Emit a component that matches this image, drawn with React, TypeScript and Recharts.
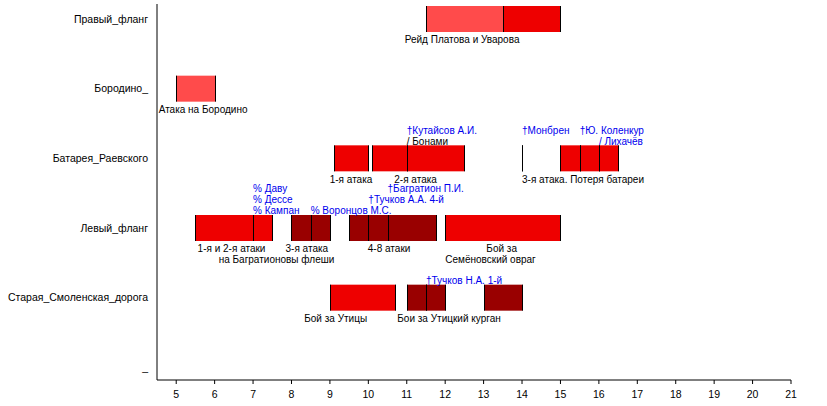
import React from 'react'
import { BarChart, Bar, XAxis, YAxis, ReferenceDot } from 'recharts'

// rows of the timeline, top to bottom
const rowNames = ['Правый_фланг', 'Бородино_', 'Батарея_Раевского', 'Левый_фланг', 'Старая_Смоленская_дорога', '_']

// segments per row: [from hour, till hour, colour key]
const rightFlank = [[11.5, 13.5, 'light'], [13.5, 15, 'red']]
const borodino = [[5, 6, 'light']]
const raevsky = [
  [9.1, 10, 'red'], [10.1, 11, 'red'], [11, 12.5, 'red'], [14, 14.01, 'red'],
  [15, 15.5, 'red'], [15.5, 16, 'red'], [16, 16.5, 'red'],
]
const leftFlank = [
  [5.5, 7, 'red'], [7, 7.5, 'red'], [8, 8.5, 'dark'], [8.5, 9, 'dark'],
  [9.5, 10, 'dark'], [10, 10.5, 'dark'], [10.5, 11.75, 'dark'], [12, 15, 'red'],
]
const smolensk = [[9, 10.7, 'red'], [11, 11.5, 'dark'], [11.5, 12, 'dark'], [13, 14, 'dark']]
const segments = [rightFlank, borodino, raevsky, leftFlank, smolensk, []]

const hourTicks = [5, 6, 7, 8, 9, 10, 11, 12, 13, 14, 15, 16, 17, 18, 19, 20, 21]

// captions: [row, hour, line (+ below bar, - above), anchor, kind, text]
const captions = [
  [0, 12.44, 1, 'middle', 'text', 'Рейд Платова и Уварова'],
  [1, 5.7, 1, 'middle', 'text', 'Атака на Бородино'],
  [2, 11, -2, 'start', 'death', '†Кутайсов А.И.'],
  [2, 11, -1, 'start', 'text', '/ Бонами'],
  [2, 14, -2, 'start', 'death', '†Монбрен'],
  [2, 15.5, -2, 'start', 'death', '†Ю. Коленкур'],
  [2, 16, -1, 'start', 'death', '/ Лихачёв'],
  [2, 9.55, 1, 'middle', 'text', '1-я атака'],
  [2, 11.23, 1, 'middle', 'text', '2-я атака'],
  [2, 14, 1, 'start', 'text', '3-я атака. Потеря батареи'],
  [3, 7, -3, 'start', 'death', '% Даву'],
  [3, 7, -2, 'start', 'death', '% Дессе'],
  [3, 7, -1, 'start', 'death', '% Кампан'],
  [3, 8.5, -1, 'start', 'death', '% Воронцов М.С.'],
  [3, 10, -2, 'start', 'death', '†Тучков А.А. 4-й'],
  [3, 10.5, -3, 'start', 'death', '†Багратион П.И.'],
  [3, 6.44, 1, 'middle', 'text', '1-я и 2-я атаки'],
  [3, 7.61, 2, 'middle', 'text', 'на Багратионовы флеши'],
  [3, 8.4, 1, 'middle', 'text', '3-я атака'],
  [3, 10.54, 1, 'middle', 'text', '4-8 атаки'],
  [3, 13.47, 1, 'middle', 'text', 'Бой за'],
  [3, 13.18, 2, 'middle', 'text', 'Семёновский овраг'],
  [4, 11.5, -1, 'start', 'death', '†Тучков Н.А. 1-й'],
  [4, 9.15, 1, 'middle', 'text', 'Бой за Утицы'],
  [4, 12.1, 1, 'middle', 'text', 'Бои за Утицкий курган'],
]

const palette = { light: '#ff4b4b', red: '#ee0000', dark: '#990000' }
const FONT = '"Liberation Sans", Arial, sans-serif'
const maxSegs = Math.max(...segments.map(s => s.length))
const rows = rowNames.map((row, i) => ({ row, segs: segments[i] }))

const lineOffset = (line: number) => (line > 0 ? 21 + (line - 1) * 11 : -17 + (line + 1) * 11)

function segShape(k: number) {
  return (p: any) => {
    const seg = p.payload?.segs?.[k]
    if (!seg) return null
    const x0 = Math.round(p.x) + 0.5
    const x1 = Math.round(p.x + p.width) + 0.5
    const y = p.y
    const h = p.height
    return (
      <g>
        <rect x={x0} y={y} width={Math.max(0, x1 - x0)} height={h} fill={palette[seg[2] as keyof typeof palette]} />
        <line x1={x0} x2={x0} y1={y} y2={y + h} stroke="#000" />
        <line x1={x1} x2={x1} y1={y} y2={y + h} stroke="#000" />
      </g>
    )
  }
}

export default function App() {
  const ids = Array.from({ length: maxSegs }, (_, k) => k)
  return (
    <div style={{ position: 'absolute', left: 0, top: 0 }}>
      <BarChart
        layout="vertical"
        width={827}
        height={406}
        data={rows}
        margin={{ top: 4, right: 36, bottom: 0, left: 0 }}
        barSize={26}
      >
        <XAxis
          type="number"
          domain={[4.5, 21]}
          ticks={hourTicks}
          height={26}
          tickSize={4}
          tickMargin={7}
          stroke="#000"
          tick={{ fill: '#000', fontSize: 10.5, fontFamily: FONT }}
          allowDataOverflow
        />
        {ids.map(k => (
          <YAxis
            key={k}
            yAxisId={k}
            type="category"
            dataKey="row"
            width={157}
            hide={k > 0}
            interval={0}
            tickLine={false}
            tickSize={6}
            tickMargin={3}
            padding={{ top: -20, bottom: -22 }}
            stroke="#000"
            tick={{ fill: '#000', fontSize: 10.5, fontFamily: FONT }}
          />
        ))}
        {ids.map(k => (
          <Bar
            key={k}
            yAxisId={k}
            dataKey={(r: any) => (r.segs[k] ? [r.segs[k][0], r.segs[k][1]] : null)}
            shape={segShape(k)}
            isAnimationActive={false}
          />
        ))}
        {captions.map((c, i) => (
          <ReferenceDot
            key={i}
            yAxisId={0}
            x={c[1] as number}
            y={rowNames[c[0] as number]}
            r={0}
            ifOverflow="visible"
            shape={(p: any) => (
              <text
                x={p.cx}
                y={p.cy + lineOffset(c[2] as number) + 3.6}
                textAnchor={c[3] as any}
                fill={c[4] === 'death' ? '#0000ee' : '#000'}
                fontSize={10}
                fontFamily={FONT}
              >
                {c[5]}
              </text>
            )}
          />
        ))}
      </BarChart>
    </div>
  )
}
